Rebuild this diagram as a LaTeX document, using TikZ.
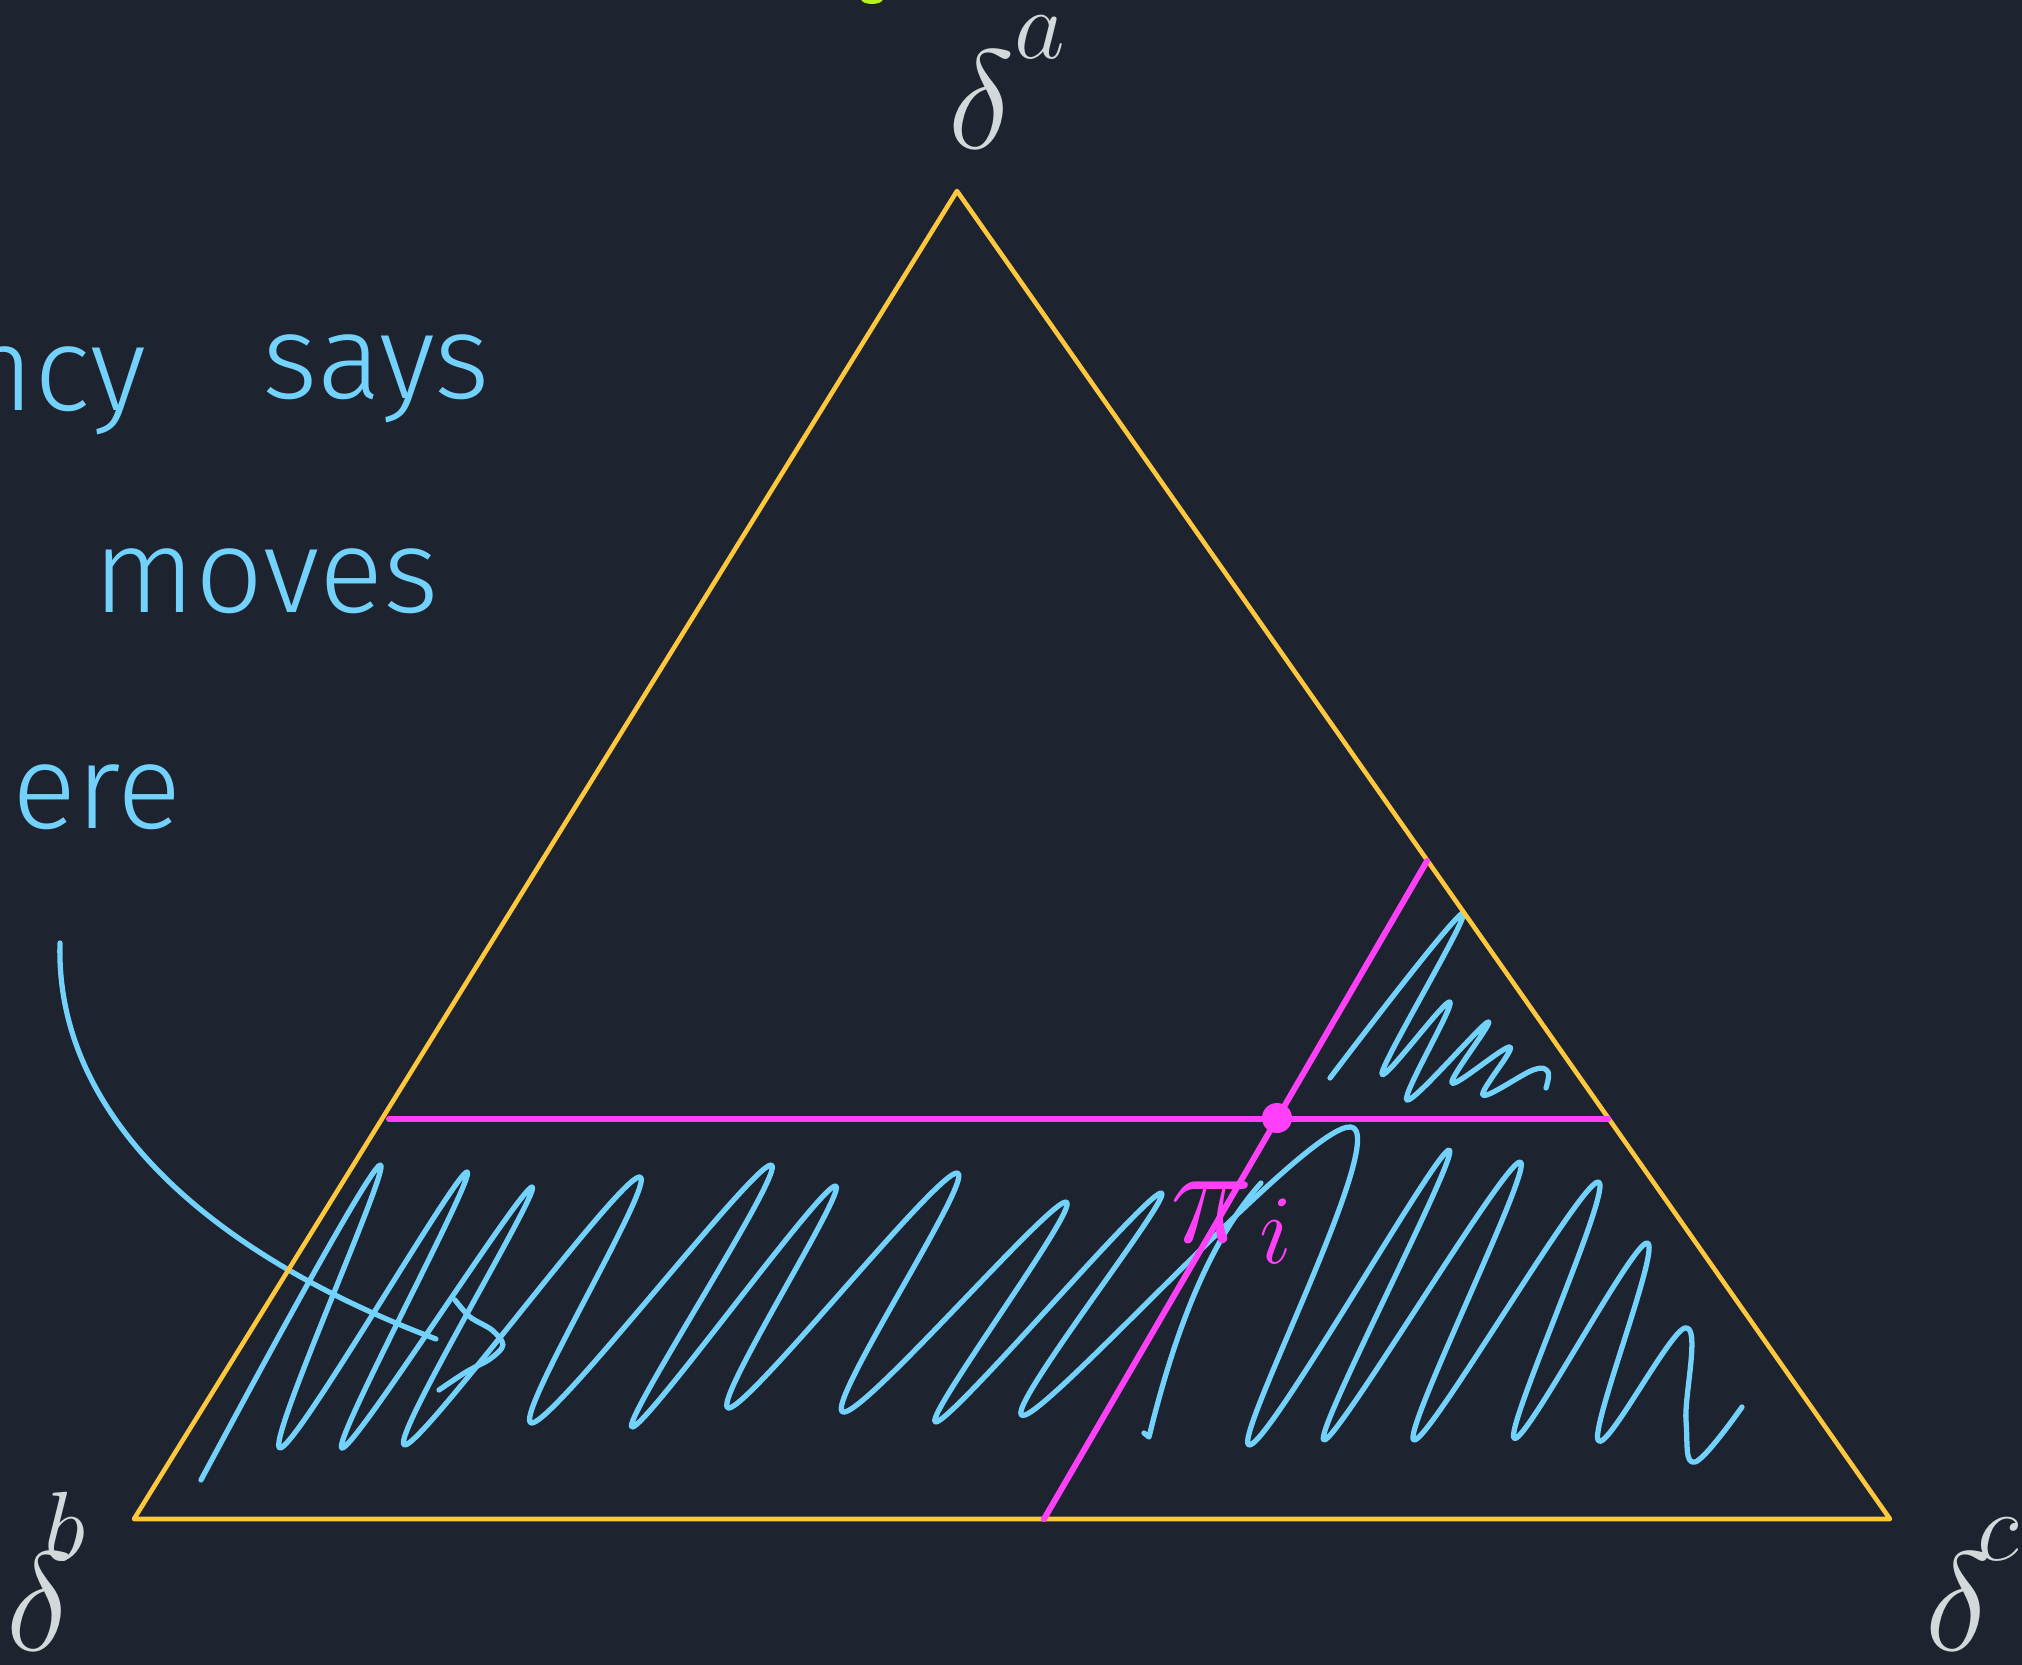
\RequirePackage{fix-cm}
\documentclass[tikz,border=0pt]{standalone}
\usepackage{fontspec}
\setmainfont{Fira Sans Light}
\usepackage{tkz-euclide}
\usetikzlibrary{calc}
\definecolor{BgClr}{HTML}{1E2330}
\definecolor{SideClr}{HTML}{FFC83C}
\definecolor{CutClr}{HTML}{FF40F8}
\definecolor{HatchClr}{HTML}{72D2FC}
\definecolor{LblClr}{HTML}{D3D8DB}
\definecolor{InkClr}{HTML}{B6F51C}
\newcommand{\dlbl}[2][0pt]{$\delta^{\hspace{#1}\raisebox{11pt}{$\scriptstyle #2$}}$}

\begin{document}
\begin{tikzpicture}[line cap=round,line join=round,
  scribble/.style={HatchClr,line width=1.5pt},
  handtxt/.style={HatchClr,font=\fontsize{34}{40}\selectfont,inner sep=0pt,anchor=base west},
  vlabel/.style={LblClr,font=\fontsize{40}{48}\selectfont,inner sep=0pt,anchor=base west}]
\useasboundingbox (0,0) rectangle (20.22,-16.65);
\fill[BgClr] (0,0) rectangle (20.22,-16.65);
\clip (0,0) rectangle (20.22,-16.65);

\tkzDefPoints{9.57/-1.91/A,1.34/-15.19/B,18.90/-15.19/C}
\tkzDefPoints{3.89/-11.19/H,16.08/-11.19/K,10.44/-15.19/S,14.27/-8.61/U,12.77/-11.18/P}

% hatching
\draw[scribble] plot[smooth,tension=0.65] coordinates {(2.01,-14.80) (3.80,-11.65) (2.80,-14.48) (4.67,-11.72)
  (3.42,-14.48) (5.32,-11.87) (4.05,-14.45) (6.39,-11.77) (5.32,-14.23) (7.71,-11.65) (6.32,-14.27)
  (8.35,-11.86) (7.29,-14.08) (9.57,-11.73) (8.43,-14.12) (10.66,-12.02) (9.36,-14.22) (11.61,-11.93)
  (10.25,-14.15) (13.51,-11.27) (12.49,-14.45) (14.49,-11.50) (13.24,-14.40) (15.20,-11.62) (14.14,-14.40)
  (15.98,-11.82) (15.14,-14.38) (16.47,-12.43) (15.98,-14.40) (16.85,-13.28) (16.86,-14.20) (16.95,-14.62)
  (17.42,-14.07)};
\draw[scribble] (11.44,-14.33) -- (11.49,-14.37) .. controls (11.75,-13.30) and (12.10,-12.40) .. (12.61,-11.83);
\draw[scribble] plot[smooth,tension=0.6] coordinates {(13.30,-10.78) (14.63,-9.13) (13.82,-10.73) (14.50,-10.02)
  (14.07,-11.00) (14.88,-10.22) (14.52,-10.83) (15.10,-10.47) (14.83,-10.95) (15.33,-10.70) (15.48,-10.72)
  (15.46,-10.88)};

% arrow to the hatching
\draw[scribble] (0.60,-9.43) .. controls (0.55,-11.10) and (2.00,-12.50) .. (4.36,-13.39);
\draw[scribble] plot[smooth,tension=0.5] coordinates {(4.55,-13.00) (4.70,-13.17) (4.92,-13.30) (5.03,-13.45)
  (4.90,-13.59) (4.66,-13.72) (4.39,-13.90)};

\tkzDrawPolygon[line width=1.3pt,color=SideClr](A,B,C)
\tkzDrawSegments[line width=1.7pt,color=CutClr](H,K S,U)
\fill[CutClr] (P) circle (0.15);
\fill[InkClr] (8.72,0.01) ellipse (0.11 and 0.05);

\node[vlabel] (la) at (9.48,-1.48) {\dlbl{a}};
\node[vlabel] (lb) at (0.06,-16.50) {\dlbl[-8pt]{b}};
\node[vlabel] (lc) at (19.25,-16.50) {\dlbl[-4pt]{c}};
\node[vlabel,CutClr] (lpi) at (11.70,-12.42) {$\pi_{\kern3pt i}$};

\node[handtxt] (ncy) at (-0.36,-4.10) {ncy};
\node[handtxt] (says) at (2.62,-3.98) {says};
\node[handtxt] (moves) at (0.93,-6.12) {moves};
\node[handtxt] (ere) at (0.12,-8.28) {ere};
\end{tikzpicture}
\end{document}
